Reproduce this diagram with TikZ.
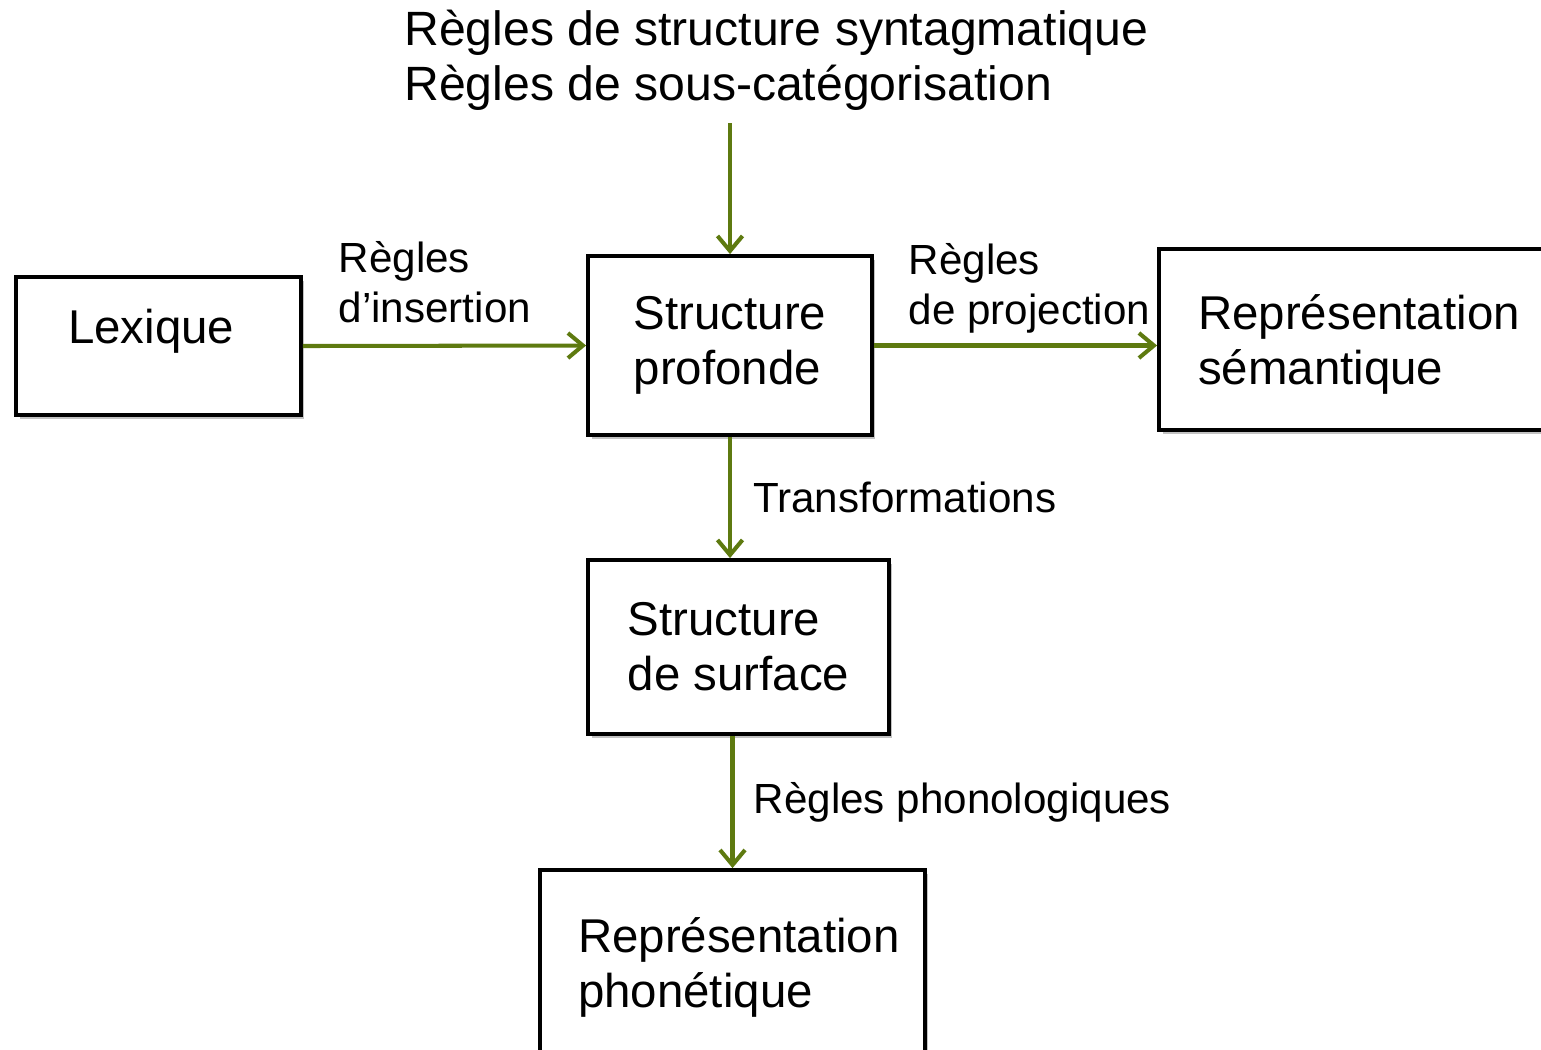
\documentclass[tikz,border=0pt]{standalone}
\usepackage{fontspec}
\setmainfont{Liberation Sans}
\usetikzlibrary{arrows.meta, positioning, shadows}
\definecolor{flowgreen}{RGB}{94,122,16}

\begin{document}
\begin{tikzpicture}[x=0.02cm, y=-0.02cm, >={Straight Barb[length=3mm, width=5mm]},
    box/.style={draw, line width=2.2pt, fill=white, align=left, inner sep=0pt,
      font=\fontsize{27}{31.3}\selectfont,
      drop shadow={shadow xshift=2pt, shadow yshift=-2pt, fill=black!60, opacity=0.4}},
    flow/.style={->, draw=flowgreen, line width=2.3pt},
    lbl/.style={font=\fontsize{24}{28.5}\selectfont, align=left, inner sep=0pt}]
    \useasboundingbox (0,0) rectangle (1541,1049);

    \node[box, minimum width=5.7cm, minimum height=2.76cm, text width=3.62cm, text depth=22pt] (lex) at (158.5,346) {Lexique};
    \node[box, minimum width=5.68cm, minimum height=3.58cm] (sp) at (730,345.5) {Structure\\profonde};
    \node[box, minimum width=8cm, minimum height=3.62cm, text depth=-5.4pt] (rs) at (1359,339.5) {Représentation\\sémantique};
    \node[box, minimum width=6.02cm, minimum height=3.48cm] (ss) at (738.5,647) {Structure\\de surface};
    \node[box, minimum width=7.7cm, minimum height=3.9cm, text width=6.18cm] (rp) at (732.5,967.5) {Représentation\\phonétique};

    \node[anchor=west, align=left, inner sep=0pt, font=\fontsize{27.4}{31.3}\selectfont] (rules) at (404,60)
      {Règles de structure syntagmatique\\Règles de sous-catégorisation};
    \coordinate (src) at (730,123);

    \draw[flow] (src) -- (src |- sp.north);
    \draw[flow] (lex.east) -- node[lbl, above=12pt, xshift=-5.5pt] {Règles\\d’insertion} (sp.west);
    \draw[flow] (sp.east) -- node[lbl, above=6pt, xshift=8pt] {Règles\\de projection} (sp.east -| rs.west);
    \draw[flow] (sp.south) -- node[lbl, right=12pt] {Transformations} (sp.south |- ss.north);
    \draw[flow] (rp.north |- ss.south) -- node[lbl, right=11pt] {Règles phonologiques} (rp.north);
\end{tikzpicture}
\end{document}
